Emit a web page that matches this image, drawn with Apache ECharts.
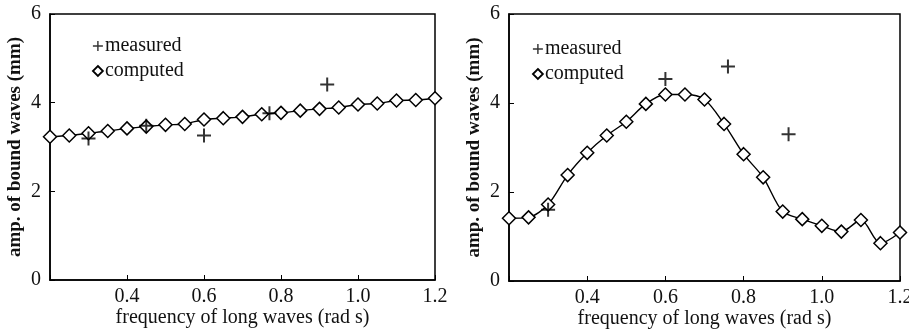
<!DOCTYPE html>
<html>
<head>
<meta charset="utf-8">
<script src="https://cdn.jsdelivr.net/npm/echarts@6/dist/echarts.min.js"></script>
<style>
html,body{margin:0;padding:0;background:#fff;}
#c{width:909px;height:329px;}
</style>
</head>
<body>
<div id="c"></div>
<script>
// ---- data ----
const freq = [0.2,0.25,0.3,0.35,0.4,0.45,0.5,0.55,0.6,0.65,0.7,0.75,0.8,0.85,0.9,0.95,1.0,1.05,1.1,1.15,1.2];
const computedLeft = [3.23,3.26,3.31,3.36,3.42,3.46,3.50,3.52,3.62,3.65,3.68,3.74,3.77,3.82,3.86,3.89,3.96,3.98,4.05,4.06,4.10];
const computedRight = [1.41,1.43,1.72,2.38,2.88,3.27,3.58,3.98,4.19,4.19,4.08,3.53,2.85,2.33,1.56,1.39,1.24,1.11,1.37,0.85,1.09];
const measuredLeftX = [0.30,0.45,0.60,0.77,0.92];
const measuredLeftY = [3.19,3.48,3.26,3.76,4.41];
const measuredRightX = [0.30,0.60,0.76,0.915];
const measuredRightY = [1.60,4.54,4.82,3.30];
const xTicks = [0.2,0.4,0.6,0.8,1.0,1.2];
const yTicks = [0,2,4,6];
const xName = 'frequency of long waves (rad s)';
const yName = 'amp. of bound waves (mm)';

const FONT = 'Liberation Serif';
const plusPath = 'path://M6,0H8V6H14V8H8V14H6V8H0V6H6Z';
const pair = (xs, ys) => xs.map((x, i) => [x, ys[i]]);

function xAxis(g){
  return {
    gridIndex:g, type:'value', min:xTicks[0], max:xTicks[xTicks.length-1], interval:0.2,
    axisLine:{lineStyle:{color:'#000',width:1.5}},
    axisTick:{inside:true,length:5,lineStyle:{color:'#000',width:1}},
    splitLine:{show:false},
    axisLabel:{color:'#111',fontFamily:FONT,fontSize:20,margin:7,
      formatter:v => (v < 0.25 ? '' : v.toFixed(1))},
    name:xName, nameLocation:'middle', nameGap:28, nameMoveOverlap:false,
    nameTextStyle:{color:'#111',fontFamily:FONT,fontSize:20}
  };
}
function yAxis(g){
  return {
    gridIndex:g, type:'value', min:yTicks[0], max:yTicks[yTicks.length-1], interval:2,
    axisLine:{lineStyle:{color:'#000',width:1.5}},
    axisTick:{inside:true,length:5,lineStyle:{color:'#000',width:1}},
    splitLine:{show:false},
    axisLabel:{color:'#111',fontFamily:FONT,fontSize:20,margin:9},
    name:yName, nameLocation:'middle', nameGap:25, nameMoveOverlap:false,
    nameTextStyle:{color:'#111',fontFamily:FONT,fontSize:19,fontWeight:'bold'}
  };
}
function lineSeries(g, data){
  return {
    type:'line', name:'computed', xAxisIndex:g, yAxisIndex:g,
    data:pair(freq, data), smooth:0.3,
    lineStyle:{color:'#000',width:1.4},
    symbol:'diamond', symbolSize:[13,13], showAllSymbol:true,
    itemStyle:{color:'#fff',borderColor:'#000',borderWidth:1.5},
    z:2
  };
}
function scatterSeries(g, xs, ys){
  return {
    type:'scatter', name:'measured', xAxisIndex:g, yAxisIndex:g,
    data:pair(xs, ys), symbol:plusPath, symbolSize:14,
    itemStyle:{color:'#000'}, z:3
  };
}
function legend(left, top){
  return {
    left:left, top:top, orient:'vertical', itemGap:5, itemWidth:10, itemHeight:10,
    selectedMode:false,
    textStyle:{color:'#111',fontFamily:FONT,fontSize:20,lineHeight:20,padding:[0,0,0,-3]},
    data:[
      {name:'measured', icon:plusPath, itemStyle:{color:'#000',borderWidth:0}},
      {name:'computed', icon:'diamond', itemStyle:{color:'#fff',borderColor:'#000',borderWidth:1.8}}
    ]
  };
}

const chart = echarts.init(document.getElementById('c'), null, {renderer:'canvas'});
chart.setOption({
  animation:false,
  backgroundColor:'#fff',
  grid:[
    {left:50, right:474, top:14, bottom:49, show:true, borderColor:'#000', borderWidth:1.5, containLabel:false, outerBoundsMode:'none'},
    {left:509, right:9, top:14, bottom:48, show:true, borderColor:'#000', borderWidth:1.5, containLabel:false, outerBoundsMode:'none'}
  ],
  xAxis:[xAxis(0), xAxis(1)],
  yAxis:[yAxis(0), yAxis(1)],
  legend:[legend(87, 31), legend(527, 34)],
  series:[
    lineSeries(0, computedLeft),
    scatterSeries(0, measuredLeftX, measuredLeftY),
    lineSeries(1, computedRight),
    scatterSeries(1, measuredRightX, measuredRightY)
  ]
});
</script>
</body>
</html>
